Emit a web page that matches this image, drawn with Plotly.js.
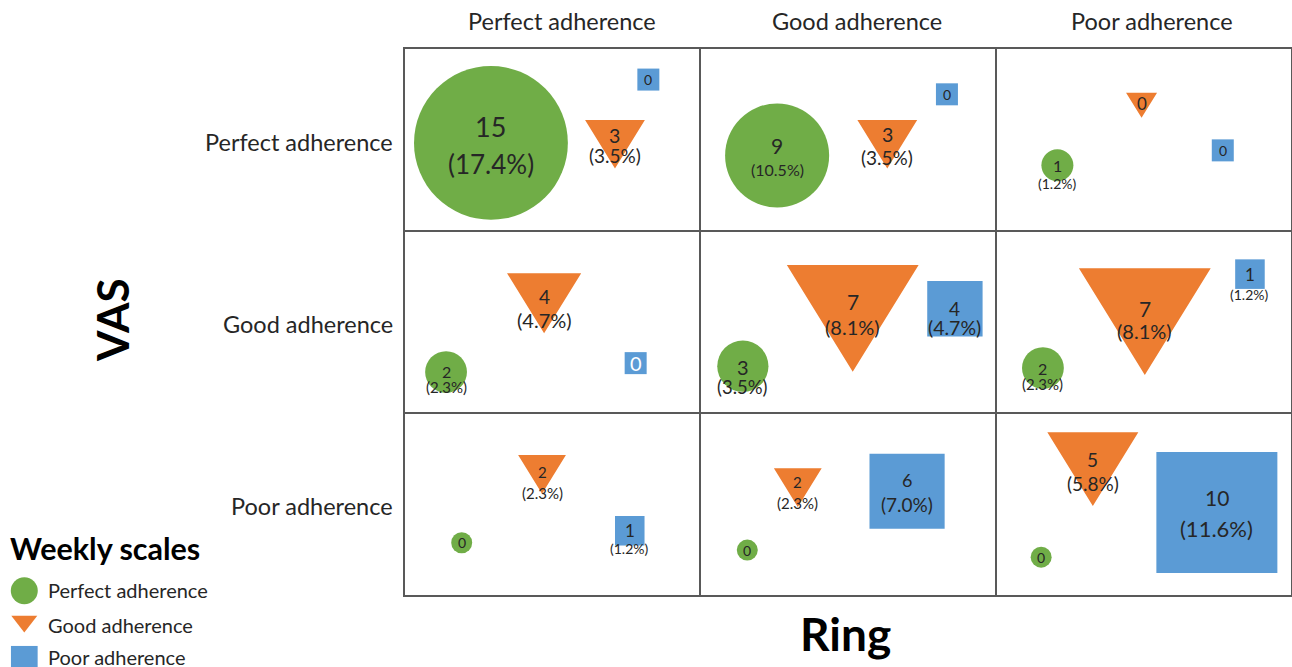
<!DOCTYPE html>
<html>
<head>
<meta charset="utf-8">
<script src="https://cdn.plot.ly/plotly-3.0.1.min.js"></script>
<style>
  html, body { margin: 0; padding: 0; background: #ffffff; }
  #chart { width: 1292px; height: 667px; }
</style>
</head>
<body>
<div id="chart"></div>
<script>
// Adherence categories shared by the Ring (columns), VAS (rows) and weekly scales (marks)
const levels = ['Perfect adherence', 'Good adherence', 'Poor adherence'];
const weeklyLegend = ['Perfect adherence', 'Good adherence', 'Poor adherence'];

// Participant counts per weekly-scale level; rows = VAS level, columns = Ring level
const weeklyPerfect = [[15, 9, 1], [2, 3, 2], [0, 0, 0]];
const weeklyGood    = [[3, 3, 0], [4, 7, 7], [2, 2, 5]];
const weeklyPoor    = [[0, 0, 0], [0, 4, 1], [1, 6, 10]];

// Number of participants used as the denominator of the percentages
const participants = 86;

// ---------------------------------------------------------------------------
const FIG_W = 1292, FIG_H = 667;
const PLOT = { left: 405, right: 1291, top: 49, bottom: 595 };
const KX = 3 / (PLOT.right - PLOT.left);   // data units per pixel, x
const KY = 3 / (PLOT.bottom - PLOT.top);   // data units per pixel, y

const COLORS = { perfect: '#70AD47', good: '#ED7D31', poor: '#5B9BD5' };
const FONT = 'Lato, "Open Sans", sans-serif';
const INK = '#262626';

const pct = n => '(' + (100 * n / participants).toFixed(1) + '%)';

// Mark size scales (pixels) driven by the count
const circleSize = n => 21 + 11 * Math.pow(n, 0.92);
const triWidth   = n => 31 + 6 * n + 1.2 * n * n;
const squareSize = n => 22 + 7.3 * n + 0.26 * n * n;
const TRI_ASPECT = 0.81;

// Where each mark sits inside its cell (fraction of cell width / height), row-major
const circlePos = [[0.291, 0.516], [0.260, 0.585], [0.209, 0.639],
                   [0.139, 0.775], [0.144, 0.743], [0.160, 0.753],
                   [0.192, 0.713], [0.159, 0.753], [0.154, 0.792]];
// triangles are placed by the centre of their top edge
const trianglePos = [[0.711, 0.390], [0.633, 0.390], [0.494, 0.240],
                     [0.471, 0.232], [0.516, 0.187], [0.505, 0.205],
                     [0.464, 0.231], [0.330, 0.304], [0.329, 0.106]];
const squarePos = [[0.824, 0.168], [0.835, 0.249], [0.769, 0.557],
                   [0.781, 0.726], [0.862, 0.427], [0.861, 0.237],
                   [0.761, 0.647], [0.700, 0.430], [0.749, 0.547]];

// Label styling: [count font px, percent font px, count offset px, percent offset px]
// offsets are measured downward from the mark anchor
const circleLabel = [[27, 26, -16.5, 21], [21, 16, -9.5, 14.5], [16, 14, 0, 18.4],
                     [16, 15, -1, 15.3], [20, 18.5, 1, 20.5], [16, 15, 0, 16],
                     [14, 0, 0, 0], [14, 0, 0, 0], [14, 0, 0, 0]];
const triangleLabel = [[19.5, 19, 16, 36], [19.5, 19, 14.5, 37.5], [17, 0, 11, 0],
                       [19, 20, 23, 46.4], [21, 20, 36.7, 62], [21, 20, 40, 63],
                       [15, 15, 17, 37.7], [15, 15, 14, 34.4], [19, 19, 27, 51.7]];
const squareLabel = [[14, 0, 0, 0], [14, 0, 0, 0], [14, 0, 0, 0],
                     [20, 0, 0, 0, '#ffffff'], [19, 19.5, 0, 18.3], [17, 14, 0, 20],
                     [17, 14, 0, 18], [18, 19, -11, 13], [21, 22, -15, 16]];

const annotations = [];

function addLabels(n, x, y, style) {
  const [fc, fp, dyc, dyp, color] = style;
  annotations.push({
    xref: 'x', yref: 'y', x: x, y: y, yshift: -dyc,
    text: String(n), showarrow: false, xanchor: 'center', yanchor: 'middle',
    font: { family: FONT, size: fc, color: color || INK }
  });
  if (n > 0 && fp > 0) {
    annotations.push({
      xref: 'x', yref: 'y', x: x, y: y, yshift: -dyp,
      text: pct(n), showarrow: false, xanchor: 'center', yanchor: 'middle',
      font: { family: FONT, size: fp, color: INK }
    });
  }
}

// Circles (weekly perfect) and squares (weekly poor) as sized markers
function markerTrace(matrix, pos, sizeFn, symbol, color, labelStyle) {
  const xs = [], ys = [], sizes = [];
  for (let r = 0; r < 3; r++) {
    for (let c = 0; c < 3; c++) {
      const i = r * 3 + c;
      const n = matrix[r][c];
      const x = c + pos[i][0], y = r + pos[i][1];
      xs.push(x); ys.push(y); sizes.push(sizeFn(n));
      addLabels(n, x, y, labelStyle[i]);
    }
  }
  return {
    type: 'scatter', mode: 'markers', x: xs, y: ys, xaxis: 'x', yaxis: 'y',
    marker: { symbol: symbol, size: sizes, color: color, opacity: 1, line: { width: 0 } },
    hoverinfo: 'skip', showlegend: false
  };
}

// Triangles (weekly good) as filled polygons pointing down
function triangleTrace(matrix, pos, labelStyle) {
  const xs = [], ys = [];
  for (let r = 0; r < 3; r++) {
    for (let c = 0; c < 3; c++) {
      const i = r * 3 + c;
      const n = matrix[r][c];
      const w = triWidth(n), h = TRI_ASPECT * w;
      const x = c + pos[i][0], y = r + pos[i][1];
      xs.push(x - w / 2 * KX, x + w / 2 * KX, x, x - w / 2 * KX, null);
      ys.push(y, y, y + h * KY, y, null);
      addLabels(n, x, y, labelStyle[i]);
    }
  }
  return {
    type: 'scatter', mode: 'lines', x: xs, y: ys, xaxis: 'x', yaxis: 'y',
    fill: 'toself', fillcolor: COLORS.good, line: { width: 0, color: COLORS.good },
    connectgaps: false, hoverinfo: 'skip', showlegend: false
  };
}

const traces = [
  triangleTrace(weeklyGood, trianglePos, triangleLabel),
  markerTrace(weeklyPerfect, circlePos, circleSize, 'circle', COLORS.perfect, circleLabel),
  markerTrace(weeklyPoor, squarePos, squareSize, 'square', COLORS.poor, squareLabel)
];

// Column headers (Ring) and row headers (VAS)
levels.forEach((lab, c) => {
  annotations.push({
    xref: 'x', yref: 'paper', x: c + 0.5, xshift: 9, y: 1 - 21 / FIG_H,
    text: lab, showarrow: false, xanchor: 'center', yanchor: 'middle',
    font: { family: FONT, size: 23.5, color: INK }
  });
});
levels.forEach((lab, r) => {
  annotations.push({
    xref: 'paper', yref: 'y', x: 395 / FIG_W, y: r + 0.5, yshift: -2,
    text: lab, showarrow: false, xanchor: 'right', yanchor: 'middle',
    font: { family: FONT, size: 23.5, color: INK }
  });
});

// Axis titles
annotations.push({
  xref: 'paper', yref: 'paper', x: 112 / FIG_W, y: 1 - 320 / FIG_H,
  text: 'VAS', textangle: -90, showarrow: false, xanchor: 'center', yanchor: 'middle',
  font: { family: FONT, size: 44, color: '#000000', weight: 'bold' }
});
annotations.push({
  xref: 'paper', yref: 'paper', x: 845 / FIG_W, y: 1 - 633 / FIG_H,
  text: 'Ring', showarrow: false, xanchor: 'center', yanchor: 'middle',
  font: { family: FONT, size: 46, color: '#000000', weight: 'bold' }
});

// Legend for the weekly scales, drawn in its own pixel-scaled panel
const LEG = { x0: 0, x1: 300, y0: 520, y1: 667 };
const legendKeyY = [590.7, 621.3, 659.3];
const legendKeySize = [27, 22.5, 26.7];
traces.push({
  type: 'scatter', mode: 'markers', xaxis: 'x2', yaxis: 'y2',
  x: [24.3, 24.3, 24.3], y: legendKeyY,
  marker: { symbol: ['circle', 'triangle-down', 'square'], size: legendKeySize, opacity: 1,
            color: [COLORS.perfect, COLORS.good, COLORS.poor], line: { width: 0 } },
  hoverinfo: 'skip', showlegend: false, cliponaxis: false
});
annotations.push({
  xref: 'x2', yref: 'y2', x: 8, y: 548, text: 'Weekly scales', showarrow: false,
  xanchor: 'left', yanchor: 'middle',
  font: { family: FONT, size: 30.5, color: '#000000', weight: 'bold' }
});
weeklyLegend.forEach((lab, i) => {
  annotations.push({
    xref: 'x2', yref: 'y2', x: 46, y: [589.5, 625, 657][i], text: lab, showarrow: false,
    xanchor: 'left', yanchor: 'middle',
    font: { family: FONT, size: 20, color: INK }
  });
});

const gridLine = '#595959';
const layout = {
  width: FIG_W, height: FIG_H,
  margin: { l: 0, r: 0, t: 0, b: 0, pad: 0 },
  paper_bgcolor: '#ffffff', plot_bgcolor: '#ffffff',
  showlegend: false,
  xaxis: {
    domain: [PLOT.left / FIG_W, PLOT.right / FIG_W], range: [0, 3], fixedrange: true,
    tickvals: [1, 2], showticklabels: false, ticks: '',
    showgrid: true, gridcolor: gridLine, gridwidth: 2, zeroline: false,
    showline: true, mirror: true, linecolor: gridLine, linewidth: 2
  },
  yaxis: {
    domain: [1 - PLOT.bottom / FIG_H, 1 - PLOT.top / FIG_H], range: [3, 0], fixedrange: true,
    tickvals: [1, 2], showticklabels: false, ticks: '',
    showgrid: true, gridcolor: gridLine, gridwidth: 2, zeroline: false,
    showline: true, mirror: true, linecolor: gridLine, linewidth: 2
  },
  xaxis2: {
    domain: [LEG.x0 / FIG_W, LEG.x1 / FIG_W], range: [LEG.x0, LEG.x1], anchor: 'y2',
    visible: false, fixedrange: true
  },
  yaxis2: {
    domain: [1 - LEG.y1 / FIG_H, 1 - LEG.y0 / FIG_H], range: [LEG.y1, LEG.y0], anchor: 'x2',
    visible: false, fixedrange: true
  },
  annotations: annotations
};

Plotly.newPlot('chart', traces, layout, { staticPlot: true, displayModeBar: false });
</script>
</body>
</html>
